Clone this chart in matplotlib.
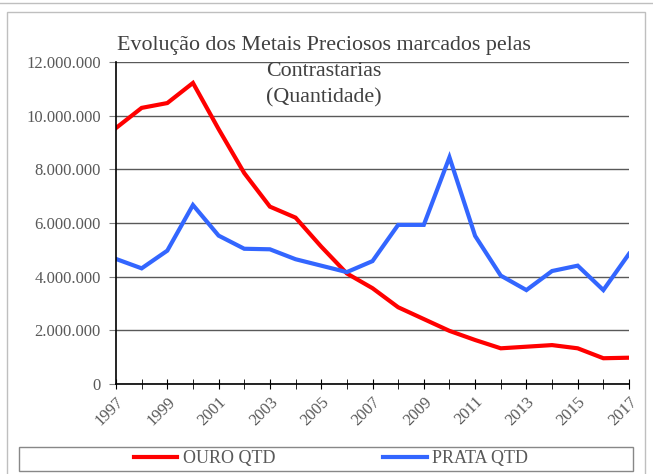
import matplotlib
matplotlib.use('Agg')
from matplotlib import pyplot as plt
from matplotlib.ticker import FuncFormatter, MultipleLocator
from matplotlib.patches import Rectangle
from matplotlib.lines import Line2D

# Data
years = list(range(1997, 2018))
ouro_qtd = [9540000, 10290000, 10470000, 11220000, 9500000, 7860000, 6610000, 6200000,
            5120000, 4120000, 3570000, 2860000, 2420000, 1980000, 1640000, 1330000,
            1390000, 1450000, 1330000, 960000, 980000]
prata_qtd = [4660000, 4310000, 4970000, 6670000, 5530000, 5040000, 5020000, 4650000,
             4410000, 4170000, 4580000, 5930000, 5930000, 8450000, 5520000, 4040000,
             3500000, 4210000, 4410000, 3500000, 4850000]
series_labels = ['OURO QTD', 'PRATA QTD']
title = 'Evolução dos Metais Preciosos marcados pelas\nContrastarias\n(Quantidade)'

text_color = '#595959'
plt.rcParams['font.family'] = ['Liberation Serif', 'DejaVu Serif']

fig = plt.figure(figsize=(6.53, 4.74), dpi=100)
ax = fig.add_axes([116 / 653, 1 - 384 / 474, 513 / 653, 322 / 474])

l1, = ax.plot(years, ouro_qtd, color='#ff0000', lw=3, solid_joinstyle='miter')
l2, = ax.plot(years, prata_qtd, color='#3366ff', lw=3, solid_joinstyle='miter')

ax.set_xlim(1997, 2017)
ax.set_ylim(0, 12000000)
ax.yaxis.set_major_locator(MultipleLocator(2000000))
ax.yaxis.set_major_formatter(FuncFormatter(lambda v, p: f'{int(v):,}'.replace(',', '.')))
ax.set_xticks(years[::2])
ax.set_xticks(years, minor=True)
ax.grid(axis='y', color='#595959', lw=1)
ax.set_axisbelow(True)

for side in ['top', 'right']:
    ax.spines[side].set_visible(False)
for side in ['left', 'bottom']:
    ax.spines[side].set_color('black')
    ax.spines[side].set_linewidth(1.2)

ax.tick_params(axis='y', direction='out', length=5, color='#808080', labelsize=12,
               labelcolor=text_color, pad=6)
ax.tick_params(axis='x', which='both', direction='inout', length=7, color='black',
               labelsize=12, labelcolor=text_color)
for lab in ax.get_xticklabels():
    lab.set_rotation(45)
    lab.set_ha('right')
    lab.set_rotation_mode('anchor')

fig.text(324 / 653, 1 - 36 / 474, title, ha='center', va='top', fontsize=15.8,
         color='#404040', linespacing=1.5)

# outer chart frame and legend box
fig.add_artist(Line2D([0, 1], [1 - 3 / 474, 1 - 3 / 474], color='#bfbfbf', lw=1,
                      transform=fig.transFigure))
fig.add_artist(Rectangle((7 / 653, -0.05), 638 / 653, 1.05 - 12 / 474, fill=False,
                         edgecolor='#bfbfbf', lw=1, transform=fig.transFigure))
fig.add_artist(Rectangle((19 / 653, 1 - 471 / 474), 614 / 653, 24 / 474, fill=False,
                         edgecolor='#888888', lw=1, transform=fig.transFigure))

fig.legend([l1, l2], series_labels, loc='center', ncol=2, frameon=False,
           bbox_to_anchor=(331 / 653, 1 - 459 / 474), fontsize=13, labelcolor=text_color,
           handlelength=2.4, handletextpad=0.3, columnspacing=6.0)

fig.savefig('out.png', dpi=100)
